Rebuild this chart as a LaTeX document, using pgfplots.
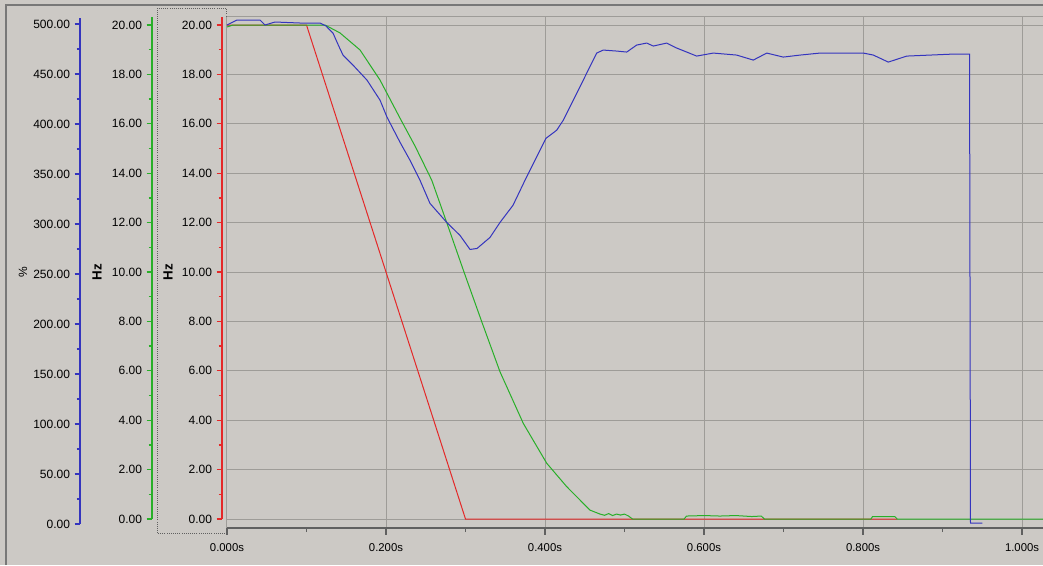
\documentclass[border=0pt]{standalone}
\usepackage{fontspec}
\setmainfont{Liberation Sans}
\usepackage{pgfplots}
\pgfplotsset{compat=1.18}

\definecolor{bg}{RGB}{204,201,197}
\definecolor{gridc}{RGB}{158,156,152}
\definecolor{axc}{RGB}{96,96,96}
\definecolor{framec}{RGB}{120,120,120}
\definecolor{cblue}{RGB}{52,52,190}
\definecolor{cgreen}{RGB}{40,175,40}
\definecolor{cred}{RGB}{228,40,40}

% one left y axis, no x axis, ticks pointing out
\pgfplotsset{
  yax/.style={
    scale only axis, width=1pt, anchor=south west,
    xmin=0, xmax=1,
    axis x line=none, axis y line*=left,
    tick align=outside, major tick length=4pt, minor tick length=2.6pt,
    minor y tick num=1,
    yticklabel style={font=\fontsize{9}{10}\selectfont,
      /pgf/number format/fixed, /pgf/number format/fixed zerofill,
      /pgf/number format/precision=2, /pgf/number format/assume math mode=true},
  }
}

\begin{document}
\begin{tikzpicture}
% window background and frame (1px = 0.75pt)
\fill[bg] (-170.25pt,-27.75pt) rectangle (612pt,396pt);
\draw[framec, line width=1.5pt] (-165.75pt,-27.75pt) -- (-165.75pt,392.25pt) -- (612pt,392.25pt);

% % axis (blue)
\begin{axis}[yax, at={(-110.25pt,3pt)}, height=379.5pt,
  ymin=0, ymax=506, ytick={0,50,...,500},
  y axis line style={cblue, line width=0.8pt},
  every tick/.style={cblue, line width=1pt}]
\end{axis}
% Hz axis (green)
\begin{axis}[yax, at={(-56.25pt,6.75pt)}, height=376.5pt,
  ymin=0, ymax=20.324, ytick={0,2,...,20},
  y axis line style={cgreen, line width=0.8pt},
  every tick/.style={cgreen, line width=1pt}]
\end{axis}
% Hz axis (red)
\begin{axis}[yax, at={(-3.75pt,6.75pt)}, height=376.5pt,
  ymin=0, ymax=20.324, ytick={0,2,...,20},
  y axis line style={cred, line width=0.8pt},
  every tick/.style={cred, line width=1pt}]
\end{axis}

\node[rotate=90, font=\fontsize{9}{10}\selectfont] at (-153pt,192pt) {\%};
\node[rotate=90, font=\bfseries\fontsize{10}{11}\selectfont] at (-97.5pt,192pt) {Hz};
\node[rotate=90, font=\bfseries\fontsize{10}{11}\selectfont] at (-44.25pt,192pt) {Hz};
\draw[axc, densely dotted, line width=0.6pt] (-52.5pt,-3.75pt) rectangle (-0.75pt,390pt);

% main plot area, Hz scale
\begin{axis}[
  scale only axis, width=612pt, height=383.25pt, at={(0,0)}, anchor=south west,
  xmin=0, xmax=1.0264, ymin=-0.364, ymax=20.324,
  axis x line*=bottom, axis y line*=left,
  y axis line style={draw=none}, ytick={0,2,...,20}, yticklabels={}, ytick style={draw=none},
  xtick={0,0.2,0.4,0.6,0.8,1},
  xticklabels={0.000s,0.200s,0.400s,0.600s,0.800s,1.000s},
  minor xtick={0.1,0.3,0.5,0.7,0.9},
  grid=major, major grid style={gridc, line width=0.75pt},
  x axis line style={axc, line width=1.5pt},
  xtick style={axc, line width=0.9pt},
  tick align=outside, major tick length=5pt, minor tick length=3pt,
  xticklabel style={font=\fontsize{8.5}{10}\selectfont, yshift=-3pt},
]
\draw[gridc, line width=0.75pt] (rel axis cs:0,1) -- (rel axis cs:1,1);
\addplot[cred, line width=0.75pt] coordinates {
  (0,20) (0.1,20) (0.3,0) (0.843,0)
};
\addplot[cgreen, line width=0.75pt] coordinates {
  (0,19.92) (0.0075,20.0) (0.1233,20.0) (0.1421,19.68) (0.1673,18.99)
  (0.1925,17.77) (0.2176,16.23) (0.2365,15.10) (0.2575,13.72) (0.2764,12.0)
  (0.2981,10.0) (0.3204,7.99) (0.3434,5.96) (0.3727,3.87) (0.4021,2.26)
  (0.4273,1.31) (0.4566,0.36) (0.4692,0.20) (0.475,0.15) (0.48,0.22)
  (0.485,0.14) (0.49,0.2) (0.495,0.16) (0.50,0.2) (0.505,0.12) (0.51,0.0)
  (0.575,0.0) (0.578,0.12) (0.60,0.14) (0.62,0.12) (0.64,0.14) (0.66,0.1)
  (0.672,0.12) (0.676,0.0) (0.81,0.0) (0.812,0.1) (0.84,0.1) (0.843,0.0)
  (1.03,0.0)
};
\end{axis}

% blue trace on the % scale, same box
\begin{axis}[
  scale only axis, width=612pt, height=383.25pt, at={(0,0)}, anchor=south west,
  xmin=0, xmax=1.0264, ymin=-3.99, ymax=506.0, hide axis,
]
\addplot[cblue, line width=0.75pt] coordinates {
  (0.000,498) (0.0126,503) (0.0415,503) (0.0478,498) (0.0604,501) (0.0918,500)
  (0.1170,500) (0.1245,497) (0.1333,490) (0.1400,478) (0.1459,468) (0.1585,458)
  (0.1761,443) (0.1925,423) (0.2013,406) (0.2176,381) (0.2302,363) (0.2428,343)
  (0.2553,320) (0.2764,301) (0.2931,288) (0.3057,274) (0.3145,275) (0.3308,286)
  (0.3434,301) (0.3597,318) (0.3748,343) (0.3874,363) (0.4013,385) (0.4147,393)
  (0.4230,403) (0.4356,423) (0.4525,450) (0.4650,470) (0.4733,473) (0.4902,472)
  (0.5028,471) (0.5153,478) (0.5279,480) (0.5362,477) (0.5531,480) (0.5657,475)
  (0.5908,467) (0.6117,470) (0.6411,468) (0.6620,463) (0.6789,470) (0.6997,466)
  (0.7208,468) (0.7459,470) (0.8004,470) (0.8130,468) (0.8318,461) (0.8550,467)
  (0.9136,469) (0.9340,469) (0.9352,1) (0.9500,1)
};
\end{axis}
\pgfresetboundingbox
\useasboundingbox (-170.25pt,-27.75pt) rectangle (612pt,396pt);
\end{tikzpicture}
\end{document}
